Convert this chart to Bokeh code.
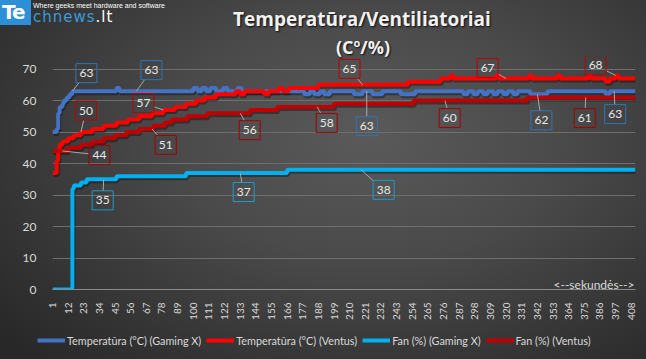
import math
from bokeh.plotting import figure
from bokeh.layouts import column, row
from bokeh.models import (ColumnDataSource, Label, Legend, LegendItem, Div,
                          FixedTicker, Range1d)
from bokeh.core.properties import value
from bokeh.embed import file_html
from bokeh.resources import INLINE

# ---------------- data ----------------
x_ticks = [1, 12, 23, 34, 45, 56, 67, 78, 89, 100, 111, 122, 133, 144, 155, 166, 177, 188,
           199, 210, 221, 232, 243, 254, 265, 276, 287, 298, 309, 320, 331, 342, 353, 364,
           375, 386, 397, 408]
y_ticks = [0, 10, 20, 30, 40, 50, 60, 70]
x_first, x_last = 1, 411

title_text = "Temperatūra/Ventiliatoriai"
axis_caption = "<--sekundės-->"
series_names = ["Temperatūra (°C) (Gaming X)", "Temperatūra (°C) (Ventus)",
                "Fan (%) (Gaming X)", "Fan (%) (Ventus)"]

# Temperatūra (Gaming X): sample index where value changes, new value
gx_temp_t = [1, 3, 4, 5, 6, 8, 9, 11, 13, 15,
             46, 48,
             100, 103, 106, 109, 112, 116, 121, 124, 131, 134,
             178, 182, 185, 189, 192, 196,
             213, 219, 226, 233,
             246, 256,
             290, 293, 297, 300, 304, 307, 311, 314, 318, 321, 325, 328,
             337, 349,
             390, 393,
             411]
gx_temp_v = [50, 50, 51, 56, 58, 59, 60, 61, 62, 63,
             64, 63,
             64, 63, 64, 63, 64, 63, 64, 63, 64, 63,
             62, 63, 62, 63, 62, 63,
             62, 63, 62, 63,
             62, 63,
             62, 63, 62, 63, 62, 63, 62, 63, 62, 63, 62, 63,
             62, 63,
             62, 63,
             63]

# Temperatūra (Ventus)
v_temp_t = [1, 4, 5, 6, 8, 12, 16, 21, 29, 37, 46, 54, 62, 71, 79, 87, 95, 102, 108, 116,
            130, 133, 136, 150, 153, 160, 163, 167, 188, 251, 274,
            281, 283, 313, 315, 336, 338, 356, 358, 378, 380, 390, 393, 397, 399, 411]
v_temp_v = [37, 41, 44, 46, 47, 48, 49, 50, 51, 52, 53, 54, 55, 56, 57, 58, 59, 60, 61, 62,
            63, 62, 63, 62, 63, 64, 63, 64, 65, 66, 67,
            68, 67, 68, 67, 68, 67, 68, 67, 68, 67, 66, 67, 68, 67, 67]

# Fan (Gaming X)
gx_fan_t = [1, 15, 16, 21, 25, 46, 95, 166, 411]
gx_fan_v = [0, 32, 33, 34, 35, 36, 37, 38, 38]

# Fan (Ventus)
v_fan_t = [1, 12, 21, 29, 37, 45, 53, 62, 72, 80, 85, 96, 110, 140, 159, 199, 255, 335, 411]
v_fan_v = [44, 45, 46, 47, 48, 49, 50, 51, 52, 53, 54, 55, 56, 57, 58, 59, 60, 61, 61]

# data labels: sample index and shown value
gx_temp_lab_t = [15, 60, 222, 342, 396]
gx_temp_lab_v = [63, 63, 63, 62, 63]
v_temp_lab_t = [21, 79, 219, 320, 397]
v_temp_lab_v = [50, 57, 65, 67, 68]
gx_fan_lab_t = [37, 133, 218]
gx_fan_lab_v = [35, 37, 38]
v_fan_lab_t = [8, 71, 133, 187, 277, 376]
v_fan_lab_v = [44, 51, 56, 58, 60, 61]

# ---------------- layout / style ----------------
PAGE_W, PAGE_H = 646, 359
HEADER_H, LEGEND_H = 56, 37
W, H = PAGE_W, PAGE_H - HEADER_H - LEGEND_H
B_LEFT, B_RIGHT, B_TOP, B_BOTTOM = 52, 11, 0, 33
Y_MAX = 74
FRAME_W = W - B_LEFT - B_RIGHT
FRAME_H = H - B_TOP - B_BOTTOM
XS = FRAME_W / (x_last - x_first)   # px per sample
YS = FRAME_H / Y_MAX                # px per unit

colors = ["#4472C4", "#FF0000", "#00B0F0", "#C00000"]
label_border = ["#2E75B6", "#C00000", "#1B9AD0", "#A50000"]

# pixel offsets of label-box centres from their points (x right, y up)
gx_temp_off = [(14, 18), (15, 21), (0, -35), (4, -26), (1, -23)]
v_temp_off = [(5, 21.5), (-20, 7), (-13, 16), (-18.5, 10.5), (-20, 10)]
gx_fan_off = [(-1, -21), (3.5, -19), (22.6, -20)]
v_fan_off = [(37, -4), (13.7, -16), (9.5, -17), (9.7, -16), (4.7, -17.5), (-1, -20.6)]
BOX_W, BOX_H = 21, 19

TXT = "#d9d9d9"

# ---------- header (logo + title) ----------
shadow = "text-shadow:1px 1px 2px rgba(0,0,0,0.85);"
header_html = f"""
<div style="position:relative;width:{PAGE_W}px;height:{HEADER_H}px;margin:0;padding:0;">
  <div style="position:absolute;left:0;top:0;width:31px;height:25px;background:#2d8fd6;"></div>
  <div style="position:absolute;left:2px;top:0;line-height:25px;font-family:'DejaVu Sans';font-weight:bold;font-size:20px;color:#ffffff;letter-spacing:-1px;">Te</div>
  <div style="position:absolute;left:33px;top:2px;line-height:8px;font-family:'Liberation Sans';font-size:7px;color:#ffffff;white-space:nowrap;">Where geeks meet hardware and software</div>
  <div style="position:absolute;left:33px;top:8px;line-height:18px;font-family:'DejaVu Sans';font-size:15px;color:#3b9ad9;letter-spacing:1px;white-space:nowrap;">chnews<span style="color:#ffffff;">.lt</span></div>
  <div style="position:absolute;left:162px;width:400px;top:9px;line-height:20px;text-align:center;font-family:'Open Sans';font-weight:bold;font-size:19px;color:#f2f2f2;white-space:nowrap;{shadow}">{title_text}</div>
  <div style="position:absolute;left:163px;width:400px;top:33px;line-height:20px;text-align:center;font-family:'Open Sans';font-weight:bold;font-size:18px;color:#f2f2f2;white-space:nowrap;{shadow}">(C<sup style="font-size:11px;">o</sup>/%)</div>
</div>
"""
header = Div(text=header_html, width=PAGE_W, height=HEADER_H, margin=0)

# ---------- main chart ----------
fig = figure(width=W, height=H, output_backend="svg", toolbar_location=None,
             x_range=Range1d(x_first, x_last), y_range=Range1d(0, Y_MAX),
             min_border_left=B_LEFT, min_border_right=B_RIGHT,
             min_border_top=B_TOP, min_border_bottom=B_BOTTOM)
fig.title = None
fig.background_fill_alpha = 0
fig.border_fill_alpha = 0
fig.outline_line_color = None

fig.xaxis.ticker = FixedTicker(ticks=x_ticks)
fig.xaxis.major_label_orientation = math.pi / 2
fig.xaxis.major_tick_line_color = None
fig.xaxis.minor_tick_line_color = None
fig.xaxis.axis_line_color = "#8a8a8a"
fig.xaxis.major_label_text_color = TXT
fig.xaxis.major_label_text_font = "Lato"
fig.xaxis.major_label_text_font_size = "10px"
fig.xaxis.major_label_standoff = 7

fig.yaxis.ticker = FixedTicker(ticks=y_ticks)
fig.yaxis.major_tick_line_color = None
fig.yaxis.minor_tick_line_color = None
fig.yaxis.axis_line_color = None
fig.yaxis.major_label_text_color = TXT
fig.yaxis.major_label_text_font = "Lato"
fig.yaxis.major_label_text_font_size = "12px"
fig.yaxis.major_label_standoff = 10

fig.xgrid.visible = False
fig.ygrid.grid_line_color = "#6e6e6e"
fig.ygrid.grid_line_width = 1

all_series = [(gx_temp_t, gx_temp_v), (v_temp_t, v_temp_v), (gx_fan_t, gx_fan_v), (v_fan_t, v_fan_v)]

for (t, v) in all_series:   # soft shadows
    fig.step(x=[a + 1.0 / XS for a in t], y=[b - 2.0 / YS for b in v], mode="after",
             line_width=4, line_color="black", line_alpha=0.35)

for (t, v), c in zip(all_series, colors):
    fig.step(x=t, y=v, mode="after", line_width=4, line_color=c)

HW, HH = BOX_W / 2, BOX_H / 2
lab_sets = [(gx_temp_lab_t, gx_temp_lab_v, gx_temp_off),
            (v_temp_lab_t, v_temp_lab_v, v_temp_off),
            (gx_fan_lab_t, gx_fan_lab_v, gx_fan_off),
            (v_fan_lab_t, v_fan_lab_v, v_fan_off)]
for (lt, lv, off), bc in zip(lab_sets, label_border):
    x0, y0, x1, y1, cx, cy = [], [], [], [], [], []
    for t, v, (dx, dy) in zip(lt, lv, off):
        sx = HW / abs(dx) if dx else 1e9
        sy = HH / abs(dy) if dy else 1e9
        u = max(0.0, 1 - min(sx, sy))
        x0.append(t); y0.append(v)
        x1.append(t + u * dx / XS); y1.append(v + u * dy / YS)
        cx.append(t + dx / XS); cy.append(v + dy / YS)
    fig.segment(x0=x0, y0=y0, x1=x1, y1=y1, line_color="#a8a8a8", line_width=1)
    src = ColumnDataSource(dict(x=cx, y=cy, text=[str(a) for a in lv]))
    fig.rect(x="x", y="y", width=BOX_W, height=BOX_H, width_units="screen", height_units="screen",
             source=src, fill_alpha=0, line_color=bc, line_width=1)
    fig.text(x="x", y="y", text="text", source=src, text_align="center", text_baseline="middle",
             text_font=value("Lato"), text_font_size="12px", text_color="#e8e8e8")

fig.add_layout(Label(x=582, y=5, x_units="screen", y_units="screen", text=axis_caption,
                     text_align="right", text_baseline="middle", text_font="Lato",
                     text_font_size="12px", text_color=TXT))

# ---------- legend strip (same series, drawn outside its visible range) ----------
leg = figure(width=PAGE_W, height=LEGEND_H, output_backend="svg", toolbar_location=None,
             x_range=Range1d(x_first, x_last), y_range=Range1d(-100, -63),
             x_axis_location=None, y_axis_location=None, min_border=0)
leg.title = None
leg.grid.visible = False
leg.background_fill_alpha = 0
leg.border_fill_alpha = 0
leg.outline_line_color = None
leg_renderers = [leg.step(x=t, y=v, mode="after", line_width=4, line_color=c)
                 for (t, v), c in zip(all_series, colors)]
legend = Legend(items=[LegendItem(label=n, renderers=[r]) for n, r in zip(series_names, leg_renderers)],
                orientation="horizontal", location=(37, 10),
                glyph_width=28, glyph_height=18, label_height=18, label_standoff=2, spacing=5,
                padding=0, margin=0, background_fill_alpha=0, border_line_alpha=0,
                label_text_color=TXT, label_text_font="Lato", label_text_font_size="10.8px")
leg.add_layout(legend, "center")

p = column(header, fig, row(leg, spacing=0), spacing=0,
           styles={"background": "radial-gradient(ellipse 75% 85% at 57% 38%, #5a5a5a 0%, #4a4a4a 40%, #333333 80%, #282828 100%)"})

open("out.html", "w").write(file_html(p, INLINE))
